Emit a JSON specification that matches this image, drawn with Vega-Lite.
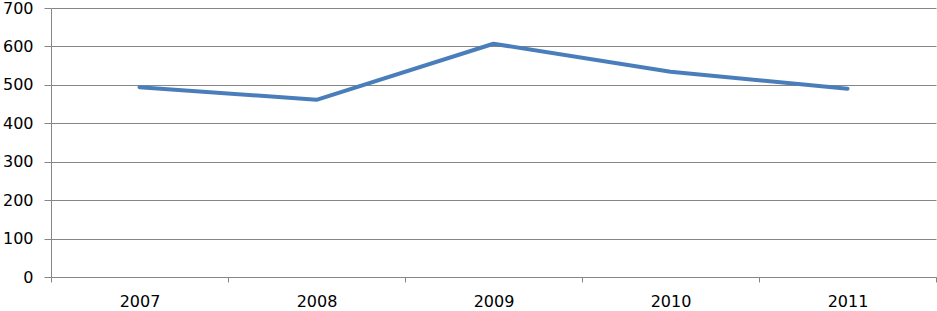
{
  "$schema": "https://vega.github.io/schema/vega-lite/v6.json",
  "width": 885,
  "height": 269,
  "autosize": {"type": "none"},
  "padding": {"left": 51, "top": 8, "right": 1, "bottom": 34},
  "background": "white",
  "config": {"view": {"stroke": null}, "font": "DejaVu Sans"},
  "data": {"values": [
    {"year": "2007", "value": 494},
    {"year": "2008", "value": 461},
    {"year": "2009", "value": 607},
    {"year": "2010", "value": 534},
    {"year": "2011", "value": 490}
  ]},
  "mark": {"type": "line", "color": "#4a7ebb", "strokeWidth": 4, "strokeCap": "round", "strokeJoin": "round"},
  "encoding": {
    "x": {
      "field": "year", "type": "ordinal", "bandPosition": 0.5,
      "scale": {"type": "band", "paddingInner": 0, "paddingOuter": 0},
      "axis": {
        "title": null, "labelAngle": 0, "tickBand": "extent",
        "domainColor": "#868686", "tickColor": "#868686", "tickSize": 5,
        "labelFontSize": 16, "labelColor": "#000000", "labelPadding": 11,
        "grid": false
      }
    },
    "y": {
      "field": "value", "type": "quantitative",
      "scale": {"domain": [0, 700], "nice": false},
      "axis": {
        "title": null, "values": [0, 100, 200, 300, 400, 500, 600, 700],
        "domainColor": "#868686", "tickColor": "#868686", "tickSize": 7,
        "gridColor": "#868686", "grid": true,
        "labelFontSize": 16, "labelColor": "#000000", "labelPadding": 11
      }
    }
  }
}
